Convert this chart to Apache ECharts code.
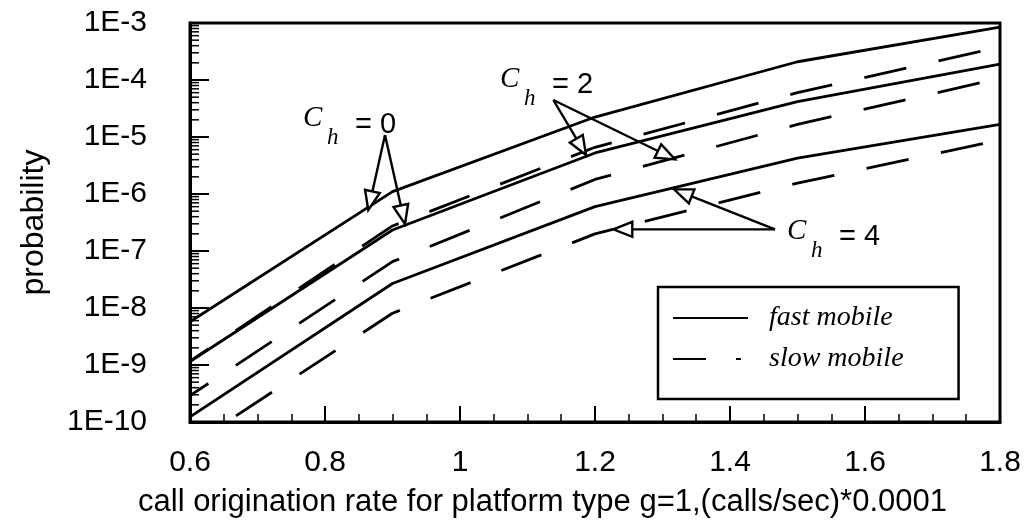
<!DOCTYPE html>
<html><head><meta charset="utf-8">
<script src="https://cdn.jsdelivr.net/npm/echarts@6/dist/echarts.min.js"></script>
<style>html,body{margin:0;padding:0;background:#fff}#c{width:1028px;height:525px}</style>
</head><body><div id="c"></div>
<script>
// ---- data ----
const xValues = [0.6, 0.9, 1.2, 1.5, 1.8];
const fastCh0 = [5.75e-9, 1.10e-6, 2.24e-5, 2.09e-4, 8.5e-4];
const fastCh2 = [1.15e-9, 2.34e-7, 5.25e-6, 4.17e-5, 1.9e-4];
const fastCh4 = [1.23e-10, 2.69e-8, 6.0e-7, 4.27e-6, 1.66e-5];
const slowCh0 = [1.17e-9, 2.75e-7, 6.6e-6, 6.0e-5, 3.8e-4];
const slowCh2 = [2.9e-10, 6.5e-8, 1.8e-6, 1.66e-5, 1.07e-4];
const slowCh4 = [3.8e-11, 8.1e-9, 2.0e-7, 1.55e-6, 8.9e-6];
const yExponents = [-10, -9, -8, -7, -6, -5, -4, -3];
const yTickLabels = ['1E-10', '1E-9', '1E-8', '1E-7', '1E-6', '1E-5', '1E-4', '1E-3'];
const legendNames = ['fast mobile', 'slow mobile'];
// annotation anchors in data space: [x, log10(probability)]
const annotations = [
  { value: '0', label: [0.7674, -4.825], from: [0.8889, -4.965], tips: [[0.8641, -6.281], [0.9185, -6.526]] },
  { value: '2', label: [1.0593, -4.140], from: [1.1383, -4.351], tips: [[1.1867, -5.316], [1.3185, -5.392]] },
  { value: '4', label: [1.4844, -6.807], from: [1.4667, -6.620], tips: [[1.3170, -5.918], [1.2271, -6.620]] }
];

const pairs = arr => xValues.map((x, i) => [x, arr[i]]);
// log-decade minor tick positions on the y axis
const minorTickVals = [];
for (let d = 0; d < yExponents.length - 1; d++) {
  for (let k = 2; k <= 9; k++) minorTickVals.push([xValues[0], k * Math.pow(10, yExponents[d])]);
}

const chart = echarts.init(document.getElementById('c'), null, { renderer: 'canvas' });
const SANS = 'Liberation Sans, Arial, Helvetica, sans-serif';
const SERIF = 'Liberation Serif, Times New Roman, serif';
const dashType = [43, 33];
const lineW = 2.8;

function lineSeries(name, arr, dashed) {
  return {
    type: 'line', name: name, data: pairs(arr), symbol: 'none', showSymbol: false,
    lineStyle: { color: '#000', width: lineW, type: dashed ? dashType : 'solid', dashOffset: dashed ? 21 : 0 },
    itemStyle: { color: '#000' }, clip: true, z: 3
  };
}

chart.setOption({
  animation: false,
  backgroundColor: '#fff',
  grid: { left: 190, right: 28, top: 23, bottom: 103, show: true, borderColor: '#000', borderWidth: 3, backgroundColor: 'transparent' },
  xAxis: {
    type: 'value', min: 0.6, max: 1.8, interval: 0.2,
    name: 'call origination rate for platform type g=1,(calls/sec)*0.0001',
    nameLocation: 'middle', nameGap: 65,
    nameTextStyle: { fontFamily: SANS, fontSize: 31, color: '#000', padding: [0, 105, 0, 0] },
    axisLine: { show: true, lineStyle: { color: '#000', width: 3 } },
    axisTick: { show: true, inside: true, length: 16, lineStyle: { color: '#000', width: 2 } },
    minorTick: { show: true, splitNumber: 4, length: 8, lineStyle: { color: '#000', width: 1.5 } },
    splitLine: { show: false },
    axisLabel: { fontFamily: SANS, fontSize: 30, color: '#000', margin: 26 }
  },
  yAxis: {
    type: 'log', logBase: 10, min: Math.pow(10, yExponents[0]), max: Math.pow(10, yExponents[yExponents.length - 1]),
    splitNumber: yExponents.length - 1,
    name: 'probability', nameLocation: 'middle', nameGap: 140,
    nameTextStyle: { fontFamily: SANS, fontSize: 32, color: '#000' },
    axisLine: { show: true, lineStyle: { color: '#000', width: 3 } },
    axisTick: { show: true, inside: true, length: 19, lineStyle: { color: '#000', width: 2 } },
    minorTick: { show: false },
    splitLine: { show: false },
    axisLabel: {
      fontFamily: SANS, fontSize: 30, color: '#000', margin: 43,
      formatter: v => {
        const e = Math.round(Math.log10(v));
        const i = yExponents.indexOf(e);
        return i >= 0 ? yTickLabels[i] : '';
      }
    }
  },
  legend: {
    orient: 'vertical', left: 658, top: 287,
    data: [
      { name: legendNames[0] },
      { name: legendNames[1], lineStyle: { type: [33, 30, 5, 7], dashOffset: 0 } }
    ],
    selectedMode: false,
    itemWidth: 75, itemHeight: 14, itemGap: 13,
    itemStyle: { opacity: 0, color: 'rgba(0,0,0,0)', borderWidth: 0 },
    padding: [17, 55, 26, 14],
    borderColor: '#000', borderWidth: 2.5, borderRadius: 0, backgroundColor: '#fff',
    textStyle: { fontFamily: SERIF, fontStyle: 'italic', fontSize: 28, lineHeight: 26, color: '#000', padding: [0, 0, 0, 16] }
  },
  series: [
    lineSeries(legendNames[0], fastCh0, false),
    lineSeries(legendNames[0], fastCh2, false),
    lineSeries(legendNames[0], fastCh4, false),
    lineSeries(legendNames[1], slowCh0, true),
    lineSeries(legendNames[1], slowCh2, true),
    lineSeries(legendNames[1], slowCh4, true),
    {
      type: 'custom', name: 'minorTicks', data: minorTickVals, silent: true, clip: false, z: 5,
      renderItem: (params, api) => {
        const p = api.coord([api.value(0), api.value(1)]);
        return { type: 'line', shape: { x1: p[0], y1: p[1], x2: p[0] + 9, y2: p[1] }, style: { stroke: '#000', lineWidth: 1.5 } };
      }
    }
  ]
});

// annotations anchored in data coordinates
function px(pt) {
  return chart.convertToPixel({ gridIndex: 0 }, [pt[0], Math.pow(10, pt[1])]);
}
const graphics = [];
annotations.forEach(a => {
  const o = px(a.from);
  a.tips.forEach(t => {
    const tp = px(t);
    const dx = tp[0] - o[0], dy = tp[1] - o[1];
    const len = Math.sqrt(dx * dx + dy * dy);
    const ux = dx / len, uy = dy / len;
    const hl = 19, hw = 7.5;
    const bx = tp[0] - ux * hl, by = tp[1] - uy * hl;
    graphics.push({ type: 'line', z: 20, shape: { x1: o[0], y1: o[1], x2: bx, y2: by }, style: { stroke: '#000', lineWidth: 2.4 } });
    graphics.push({ type: 'polygon', z: 21, shape: { points: [[tp[0], tp[1]], [bx - uy * hw, by + ux * hw], [bx + uy * hw, by - ux * hw]] }, style: { fill: '#fff', stroke: '#000', lineWidth: 2.4 } });
  });
  const l = px(a.label);
  graphics.push({ type: 'text', z: 22, x: l[0], y: l[1] + 6, style: { text: 'C', font: 'italic 29px ' + SERIF, fill: '#000', align: 'left', verticalAlign: 'bottom' } });
  graphics.push({ type: 'text', z: 22, x: l[0] + 24, y: l[1] + 22, style: { text: 'h', font: 'italic 23px ' + SERIF, fill: '#000', align: 'left', verticalAlign: 'bottom' } });
  graphics.push({ type: 'text', z: 22, x: l[0] + 52, y: l[1] + 12, style: { text: '= ' + a.value, font: '29px ' + SANS, fill: '#000', align: 'left', verticalAlign: 'bottom' } });
});
chart.setOption({ graphic: graphics });
</script>
</body></html>
